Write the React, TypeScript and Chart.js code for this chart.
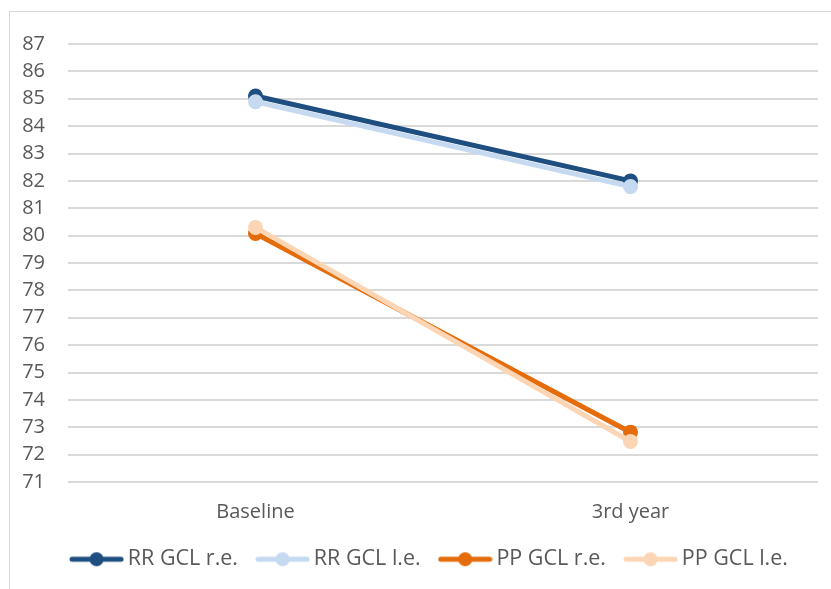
import React, { useEffect, useRef } from "react";
import { Chart, registerables } from "chart.js";

Chart.register(...registerables);

const categories = ["Baseline", "3rd year"];
const seriesNames = ["RR GCL r.e.", "RR GCL l.e.", "PP GCL r.e.", "PP GCL l.e."];
const rrRight = [85.1, 82.0];
const rrLeft = [84.89, 81.79];
const ppRight = [80.08, 72.82];
const ppLeft = [80.3, 72.48];
const seriesColors = ["#1F4E80", "#C5D9F1", "#E46C0A", "#FCD5B5"];
const yMin = 71;
const yMax = 87;

const FONT = "'Open Sans', 'Noto Sans', sans-serif";
const TEXT = "#595959";

function makeLegendImage(color: string): HTMLCanvasElement {
  const c = document.createElement("canvas");
  c.width = 55;
  c.height = 18;
  const ctx = c.getContext("2d")!;
  ctx.strokeStyle = color;
  ctx.lineWidth = 5;
  ctx.lineCap = "round";
  ctx.beginPath();
  ctx.moveTo(3, 9);
  ctx.lineTo(52, 9);
  ctx.stroke();
  ctx.fillStyle = color;
  ctx.beginPath();
  ctx.arc(27.5, 9, 7, 0, Math.PI * 2);
  ctx.fill();
  return c;
}

const legendShift = {
  id: "legendShift",
  afterLayout(chart: any) {
    if (chart.legend) {
      chart.legend.left += 23;
      chart.legend.right += 23;
    }
  },
};

export default function App() {
  const ref = useRef<HTMLCanvasElement>(null);
  useEffect(() => {
    if (!ref.current) return;
    const values = [rrRight, rrLeft, ppRight, ppLeft];
    const imgs = seriesColors.map(makeLegendImage);
    const chart = new Chart(ref.current, {
      type: "line",
      data: {
        labels: categories,
        datasets: values.map((v, i) => ({
          label: seriesNames[i],
          data: v,
          borderColor: seriesColors[i],
          backgroundColor: seriesColors[i],
          pointBackgroundColor: seriesColors[i],
          pointBorderColor: seriesColors[i],
          borderWidth: 5,
          pointRadius: 6.5,
          pointBorderWidth: 2,
          order: 3 - i,
          fill: false,
        })),
      },
      options: {
        animation: false,
        responsive: false,
        layout: { padding: { left: 0, right: 13, top: 44, bottom: 9 } },
        scales: {
          x: {
            offset: true,
            grid: { display: false, drawTicks: false },
            border: { display: false },
            ticks: { color: TEXT, font: { family: FONT, size: 20, lineHeight: 1 }, padding: 20 },
            afterFit: (s: any) => {
              s.height = 42.5;
            },
          },
          y: {
            min: yMin,
            max: yMax,
            grid: { color: "#D9D9D9", lineWidth: 2, drawTicks: false },
            border: { display: false },
            ticks: { stepSize: 1, color: TEXT, font: { family: FONT, size: 20 }, padding: 23 },
            afterFit: (s: any) => {
              s.width = 68;
            },
          },
        },
        plugins: {
          tooltip: { enabled: false },
          legend: {
            position: "bottom",
            labels: {
              color: TEXT,
              font: { family: FONT, size: 21.5 },
              usePointStyle: true,
              pointStyleWidth: 41,
              padding: 24,
              sort: (a: any, b: any) => a.datasetIndex - b.datasetIndex,
              generateLabels: (ch: any) => {
                const items = (Chart.defaults.plugins.legend.labels as any).generateLabels(ch);
                return items.map((it: any) => ({ ...it, pointStyle: imgs[it.datasetIndex] }));
              },
            },
          },
        },
      },
      plugins: [legendShift],
    });
    return () => chart.destroy();
  }, []);
  return (
    <div style={{ position: "fixed", left: 0, top: 0, width: 831, height: 589, overflow: "hidden", background: "#fff" }}>
      <div
        style={{
          position: "absolute",
          left: 9,
          top: 11,
          width: 900,
          height: 700,
          borderTop: "1px solid #D9D9D9",
          borderLeft: "1px solid #D9D9D9",
        }}
      />
      <canvas ref={ref} width={831} height={589} style={{ position: "absolute", left: 0, top: 0 }} />
    </div>
  );
}
